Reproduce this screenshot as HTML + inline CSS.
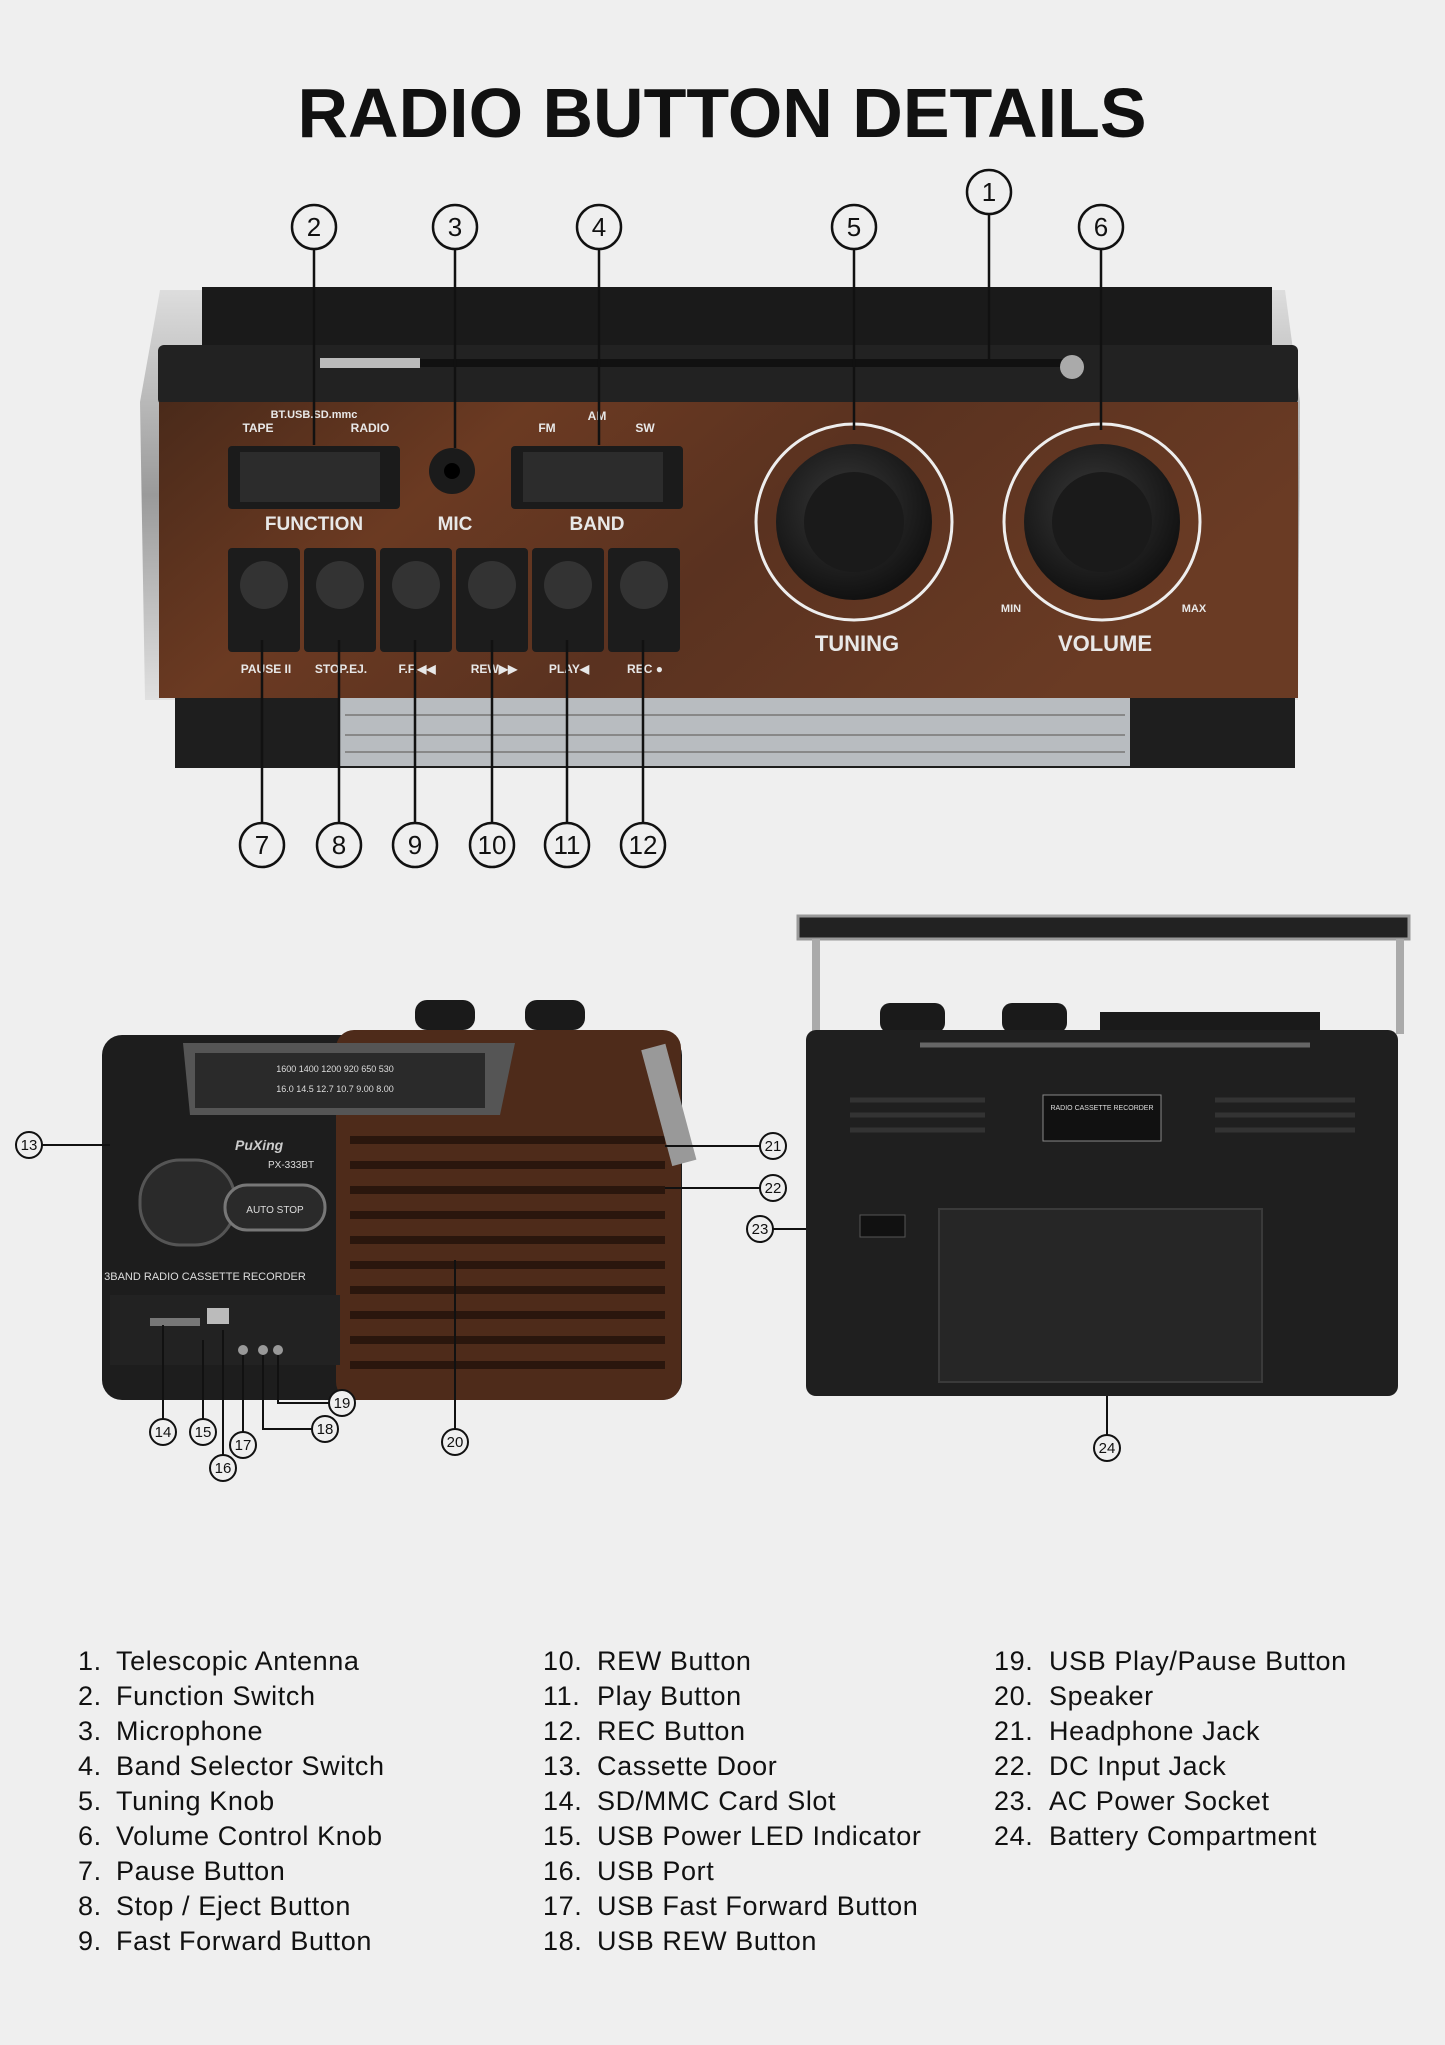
<!DOCTYPE html>
<html><head><meta charset="utf-8"><style>
html,body{margin:0;padding:0;background:#efefef;}
svg{display:block}
.t{font-family:"Liberation Sans",sans-serif;}
</style></head><body>
<svg width="1445" height="2045" viewBox="0 0 1445 2045" xmlns="http://www.w3.org/2000/svg">
<defs>
<linearGradient id="wood" x1="0" y1="0" x2="1" y2="0.3">
<stop offset="0" stop-color="#4a2a1a"/><stop offset="0.3" stop-color="#6b3a22"/><stop offset="0.6" stop-color="#5a3220"/><stop offset="1" stop-color="#6a3b24"/></linearGradient>
<linearGradient id="silver" x1="0" y1="0" x2="0" y2="1"><stop offset="0" stop-color="#ddd"/><stop offset="0.5" stop-color="#9a9a9a"/><stop offset="1" stop-color="#e0e0e0"/></linearGradient>
<radialGradient id="knob" cx="0.45" cy="0.4" r="0.6"><stop offset="0" stop-color="#3a3a3a"/><stop offset="1" stop-color="#111"/></radialGradient>
</defs>
<rect width="1445" height="2045" fill="#efefef"/>
<text x="722" y="137" text-anchor="middle" class="t" font-size="70" font-weight="bold" fill="#111">RADIO BUTTON DETAILS</text>

<!-- TOP RADIO -->
<path d="M160 290 L1285 290 L1300 402 L1298 700 L145 700 L140 402 Z" fill="url(#silver)"/>
<rect x="202" y="287" width="1070" height="60" fill="#1a1a1a"/>
<rect x="158" y="345" width="1140" height="60" rx="6" fill="#222"/>
<line x1="320" y1="363" x2="1083" y2="363" stroke="#111" stroke-width="8"/>
<rect x="320" y="358" width="100" height="10" fill="#bbb"/>
<circle cx="1072" cy="367" r="12" fill="#aaa"/>
<rect x="159" y="402" width="1139" height="296" fill="url(#wood)"/>
<rect x="175" y="698" width="1120" height="70" fill="#1e1e1e"/>
<rect x="340" y="698" width="790" height="68" fill="#b8bcc0"/>
<g stroke="#888" stroke-width="2"><line x1="345" y1="715" x2="1125" y2="715"/><line x1="345" y1="735" x2="1125" y2="735"/><line x1="345" y1="752" x2="1125" y2="752"/></g>
<rect x="228" y="446" width="172" height="63" rx="4" fill="#1b1b1b"/>
<rect x="240" y="452" width="140" height="50" fill="#2c2c2c"/>
<rect x="511" y="446" width="172" height="63" rx="4" fill="#1b1b1b"/>
<rect x="523" y="452" width="140" height="50" fill="#2c2c2c"/>
<circle cx="452" cy="471" r="23" fill="#1b1b1b"/><circle cx="452" cy="471" r="8" fill="#000"/>
<g class="t" fill="#e8e8e8" font-weight="bold" text-anchor="middle">
<text x="314" y="530" font-size="19">FUNCTION</text><text x="455" y="530" font-size="19">MIC</text><text x="597" y="530" font-size="19">BAND</text>
<text x="857" y="651" font-size="22">TUNING</text><text x="1105" y="651" font-size="22">VOLUME</text>
<text x="314" y="418" font-size="11">BT.USB.SD.mmc</text>
<text x="258" y="432" font-size="12">TAPE</text><text x="370" y="432" font-size="12">RADIO</text>
<text x="547" y="432" font-size="12">FM</text><text x="597" y="420" font-size="12">AM</text><text x="645" y="432" font-size="12">SW</text>
<text x="1011" y="612" font-size="11">MIN</text><text x="1194" y="612" font-size="11">MAX</text>
<text x="266" y="673" font-size="12">PAUSE II</text><text x="341" y="673" font-size="12">STOP.EJ.</text><text x="417" y="673" font-size="12">F.F.◀◀</text><text x="494" y="673" font-size="12">REW▶▶</text><text x="569" y="673" font-size="12">PLAY◀</text><text x="645" y="673" font-size="12">REC ●</text>
</g>
<g fill="none" stroke="#eee" stroke-width="3">
<circle cx="854" cy="522" r="98"/><circle cx="1102" cy="522" r="98"/></g>
<circle cx="854" cy="522" r="78" fill="url(#knob)"/><circle cx="854" cy="522" r="50" fill="#1a1a1a"/>
<circle cx="1102" cy="522" r="78" fill="url(#knob)"/><circle cx="1102" cy="522" r="50" fill="#1a1a1a"/>
<g fill="#1c1c1c">
<rect x="228" y="548" width="72" height="104" rx="4"/><rect x="304" y="548" width="72" height="104" rx="4"/><rect x="380" y="548" width="72" height="104" rx="4"/><rect x="456" y="548" width="72" height="104" rx="4"/><rect x="532" y="548" width="72" height="104" rx="4"/><rect x="608" y="548" width="72" height="104" rx="4"/></g>
<g fill="#333"><circle cx="264" cy="585" r="24"/><circle cx="340" cy="585" r="24"/><circle cx="416" cy="585" r="24"/><circle cx="492" cy="585" r="24"/><circle cx="568" cy="585" r="24"/><circle cx="644" cy="585" r="24"/></g>

<g stroke="#111" stroke-width="2.5">
<line x1="989" y1="214" x2="989" y2="360"/><line x1="314" y1="249" x2="314" y2="445"/><line x1="455" y1="249" x2="455" y2="448"/><line x1="599" y1="249" x2="599" y2="445"/><line x1="854" y1="249" x2="854" y2="430"/><line x1="1101" y1="249" x2="1101" y2="430"/>
<line x1="262" y1="823" x2="262" y2="640"/><line x1="339" y1="823" x2="339" y2="640"/><line x1="415" y1="823" x2="415" y2="640"/><line x1="492" y1="823" x2="492" y2="640"/><line x1="567" y1="823" x2="567" y2="640"/><line x1="643" y1="823" x2="643" y2="640"/>
</g>
<g fill="#efefef" stroke="#111" stroke-width="2.5">
<circle cx="989" cy="192" r="22"/><circle cx="314" cy="227" r="22"/><circle cx="455" cy="227" r="22"/><circle cx="599" cy="227" r="22"/><circle cx="854" cy="227" r="22"/><circle cx="1101" cy="227" r="22"/>
<circle cx="262" cy="845" r="22"/><circle cx="339" cy="845" r="22"/><circle cx="415" cy="845" r="22"/><circle cx="492" cy="845" r="22"/><circle cx="567" cy="845" r="22"/><circle cx="643" cy="845" r="22"/></g>
<g class="t" font-size="26" text-anchor="middle" fill="#111">
<text x="989" y="201">1</text><text x="314" y="236">2</text><text x="455" y="236">3</text><text x="599" y="236">4</text><text x="854" y="236">5</text><text x="1101" y="236">6</text>
<text x="262" y="854">7</text><text x="339" y="854">8</text><text x="415" y="854">9</text><text x="492" y="854">10</text><text x="567" y="854">11</text><text x="643" y="854">12</text></g>

<!-- BOTTOM LEFT RADIO -->
<rect x="415" y="1000" width="60" height="30" rx="12" fill="#1a1a1a"/><rect x="525" y="1000" width="60" height="30" rx="12" fill="#1a1a1a"/>
<rect x="102" y="1035" width="580" height="365" rx="20" fill="#1d1d1d"/>
<rect x="336" y="1030" width="345" height="370" rx="18" fill="#4e2b1a"/>
<g stroke="#2a160d" stroke-width="8">
<line x1="350" y1="1140" x2="665" y2="1140"/><line x1="350" y1="1165" x2="665" y2="1165"/><line x1="350" y1="1190" x2="665" y2="1190"/><line x1="350" y1="1215" x2="665" y2="1215"/><line x1="350" y1="1240" x2="665" y2="1240"/><line x1="350" y1="1265" x2="665" y2="1265"/><line x1="350" y1="1290" x2="665" y2="1290"/><line x1="350" y1="1315" x2="665" y2="1315"/><line x1="350" y1="1340" x2="665" y2="1340"/><line x1="350" y1="1365" x2="665" y2="1365"/></g>
<path d="M183 1043 L515 1043 L500 1115 L190 1115 Z" fill="#555"/>
<rect x="195" y="1053" width="290" height="55" fill="#2a2a2a"/>
<text x="335" y="1072" class="t" font-size="9" fill="#ddd" text-anchor="middle">1600 1400 1200 920 650 530</text>
<text x="335" y="1092" class="t" font-size="9" fill="#ddd" text-anchor="middle">16.0 14.5 12.7 10.7 9.00 8.00</text>
<rect x="140" y="1160" width="95" height="85" rx="40" fill="#2a2a2a" stroke="#555" stroke-width="3"/>
<rect x="225" y="1185" width="100" height="45" rx="22" fill="#2a2a2a" stroke="#777" stroke-width="3"/>
<text x="275" y="1213" class="t" font-size="10" fill="#ddd" text-anchor="middle">AUTO STOP</text>
<text x="235" y="1150" class="t" font-size="14" font-weight="bold" fill="#ccc" font-style="italic">PuXing</text>
<text x="268" y="1168" class="t" font-size="10" fill="#ddd">PX-333BT</text>
<text x="205" y="1280" class="t" font-size="11" fill="#ddd" text-anchor="middle">3BAND RADIO CASSETTE RECORDER</text>
<rect x="110" y="1295" width="230" height="70" fill="#222"/>
<rect x="150" y="1318" width="50" height="8" fill="#777"/><rect x="207" y="1308" width="22" height="16" fill="#bbb"/>
<g fill="#999"><circle cx="243" cy="1350" r="5"/><circle cx="263" cy="1350" r="5"/><circle cx="278" cy="1350" r="5"/></g>
<rect x="655" y="1045" width="25" height="120" fill="#999" transform="rotate(-15 668 1100)"/>
<g stroke="#111" stroke-width="2" fill="none">
<line x1="42" y1="1145" x2="110" y2="1145"/><line x1="760" y1="1146" x2="665" y2="1146"/><line x1="760" y1="1188" x2="665" y2="1188"/><line x1="773" y1="1229" x2="870" y2="1229"/>
<line x1="163" y1="1419" x2="163" y2="1325"/><line x1="203" y1="1419" x2="203" y2="1340"/><line x1="223" y1="1455" x2="223" y2="1330"/><line x1="243" y1="1432" x2="243" y2="1355"/>
<polyline points="312,1429 263,1429 263,1355"/><polyline points="329,1403 278,1403 278,1355"/><line x1="455" y1="1429" x2="455" y2="1260"/><line x1="1107" y1="1435" x2="1107" y2="1262"/>
</g>

<!-- BOTTOM RIGHT RADIO -->
<rect x="798" y="916" width="611" height="23" fill="#222" stroke="#999" stroke-width="3"/>
<rect x="812" y="939" width="8" height="95" fill="#aaa"/><rect x="1396" y="939" width="8" height="95" fill="#aaa"/>
<rect x="880" y="1003" width="65" height="30" rx="10" fill="#1a1a1a"/><rect x="1002" y="1003" width="65" height="30" rx="10" fill="#1a1a1a"/>
<rect x="1100" y="1012" width="220" height="22" fill="#1a1a1a"/>
<rect x="806" y="1030" width="592" height="366" rx="10" fill="#1f1f1f"/>
<line x1="920" y1="1045" x2="1310" y2="1045" stroke="#666" stroke-width="5"/>
<rect x="1043" y="1095" width="118" height="46" fill="#111" stroke="#888"/>
<text x="1102" y="1110" class="t" font-size="7" fill="#ddd" text-anchor="middle">RADIO CASSETTE RECORDER</text>
<g stroke="#333" stroke-width="5"><line x1="850" y1="1100" x2="985" y2="1100"/><line x1="850" y1="1115" x2="985" y2="1115"/><line x1="850" y1="1130" x2="985" y2="1130"/><line x1="1215" y1="1100" x2="1355" y2="1100"/><line x1="1215" y1="1115" x2="1355" y2="1115"/><line x1="1215" y1="1130" x2="1355" y2="1130"/></g>
<rect x="939" y="1209" width="323" height="173" fill="#262626" stroke="#3a3a3a" stroke-width="2"/>
<rect x="860" y="1215" width="45" height="22" fill="#111" stroke="#555"/>

<g fill="#efefef" stroke="#111" stroke-width="2">
<circle cx="29" cy="1145" r="13"/><circle cx="773" cy="1146" r="13"/><circle cx="773" cy="1188" r="13"/><circle cx="760" cy="1229" r="13"/>
<circle cx="163" cy="1432" r="13"/><circle cx="203" cy="1432" r="13"/><circle cx="223" cy="1468" r="13"/><circle cx="243" cy="1445" r="13"/><circle cx="325" cy="1429" r="13"/><circle cx="342" cy="1403" r="13"/><circle cx="455" cy="1442" r="13"/><circle cx="1107" cy="1448" r="13"/></g>
<g class="t" font-size="15" text-anchor="middle" fill="#111">
<text x="29" y="1150">13</text><text x="773" y="1151">21</text><text x="773" y="1193">22</text><text x="760" y="1234">23</text>
<text x="163" y="1437">14</text><text x="203" y="1437">15</text><text x="223" y="1473">16</text><text x="243" y="1450">17</text><text x="325" y="1434">18</text><text x="342" y="1408">19</text><text x="455" y="1447">20</text><text x="1107" y="1453">24</text></g>

<!-- LIST -->
<g class="t" font-size="27" fill="#111" letter-spacing="0.6">
<g><text x="78" y="1670">1.</text><text x="116" y="1670">Telescopic Antenna</text>
<text x="78" y="1705">2.</text><text x="116" y="1705">Function Switch</text>
<text x="78" y="1740">3.</text><text x="116" y="1740">Microphone</text>
<text x="78" y="1775">4.</text><text x="116" y="1775">Band Selector Switch</text>
<text x="78" y="1810">5.</text><text x="116" y="1810">Tuning Knob</text>
<text x="78" y="1845">6.</text><text x="116" y="1845">Volume Control Knob</text>
<text x="78" y="1880">7.</text><text x="116" y="1880">Pause Button</text>
<text x="78" y="1915">8.</text><text x="116" y="1915">Stop / Eject Button</text>
<text x="78" y="1950">9.</text><text x="116" y="1950">Fast Forward Button</text></g>
<g><text x="543" y="1670">10.</text><text x="597" y="1670">REW Button</text>
<text x="543" y="1705">11.</text><text x="597" y="1705">Play Button</text>
<text x="543" y="1740">12.</text><text x="597" y="1740">REC Button</text>
<text x="543" y="1775">13.</text><text x="597" y="1775">Cassette Door</text>
<text x="543" y="1810">14.</text><text x="597" y="1810">SD/MMC Card Slot</text>
<text x="543" y="1845">15.</text><text x="597" y="1845">USB Power LED Indicator</text>
<text x="543" y="1880">16.</text><text x="597" y="1880">USB Port</text>
<text x="543" y="1915">17.</text><text x="597" y="1915">USB Fast Forward Button</text>
<text x="543" y="1950">18.</text><text x="597" y="1950">USB REW Button</text></g>
<g><text x="994" y="1670">19.</text><text x="1049" y="1670">USB Play/Pause Button</text>
<text x="994" y="1705">20.</text><text x="1049" y="1705">Speaker</text>
<text x="994" y="1740">21.</text><text x="1049" y="1740">Headphone Jack</text>
<text x="994" y="1775">22.</text><text x="1049" y="1775">DC Input Jack</text>
<text x="994" y="1810">23.</text><text x="1049" y="1810">AC Power Socket</text>
<text x="994" y="1845">24.</text><text x="1049" y="1845">Battery Compartment</text></g>
</g>
</svg>
</body></html>
